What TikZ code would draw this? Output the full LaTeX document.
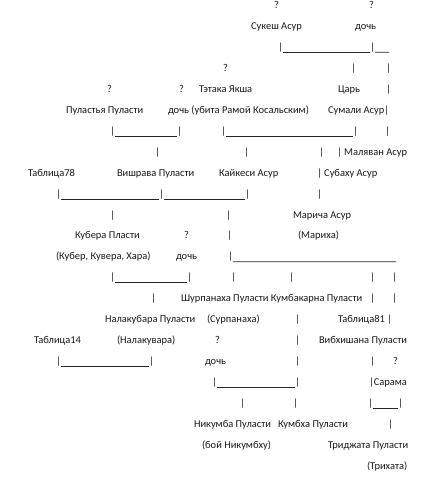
\documentclass[tikz,border=0pt]{standalone}
\usepackage{fontspec}
\setmainfont{Carlito}
\newcommand\rowb[1]{(8.5+20.95*(#1-1))}
\tikzset{
  t/.style={anchor=base west, inner sep=0pt, outer sep=0pt, font=\fontsize{10.5}{12}\selectfont, text=black!90},
  ul/.style={line width=0.7bp, black!85},
}
\begin{document}
\begin{tikzpicture}[x=1bp,y=-1bp]
\useasboundingbox[fill=white] (0,0) rectangle (435,486);
% row 1
\node[t] (q1a) at (274,{\rowb{1}}) {?};
\node[t] (q1b) at (369,{\rowb{1}}) {?};
% row 2
\node[t] (sukesh) at (251,{\rowb{2}}) {Сукеш Асур};
\node[t] (doch1) at (355,{\rowb{2}}) {дочь};
% row 3
\node[t] (b3a) at (278,{\rowb{3}}) {|};
\node[t] (b3b) at (370,{\rowb{3}}) {|};
\coordinate (e3) at (389,{\rowb{3}+1.8});
\draw[ul] ([yshift=-1.8bp]b3a.base east) -- ([yshift=-1.8bp]b3b.base west);
\draw[ul] ([yshift=-1.8bp]b3b.base east) -- (e3);
% row 4
\node[t] (q4) at (223,{\rowb{4}}) {?};
\node[t] (b4a) at (351,{\rowb{4}}) {|};
\node[t] (b4b) at (386,{\rowb{4}}) {|};
% row 5
\node[t] (q5a) at (107,{\rowb{5}}) {?};
\node[t] (q5b) at (179,{\rowb{5}}) {?};
\node[t] (tetaka) at (199,{\rowb{5}}) {Тэтака Якша};
\node[t] (tsar) at (338,{\rowb{5}}) {Царь};
\node[t] (b5) at (386,{\rowb{5}}) {|};
% row 6
\node[t] (pulastya) at (66,{\rowb{6}}) {Пуластья Пуласти};
\node[t] (doch2) at (168,{\rowb{6}}) {дочь (убита Рамой Косальским)};
\node[t] (sumali) at (328,{\rowb{6}}) {Сумали Асур|};
% row 7
\node[t] (b7a) at (110,{\rowb{7}}) {|};
\node[t] (b7b) at (177,{\rowb{7}}) {|};
\node[t] (b7c) at (221,{\rowb{7}}) {|};
\node[t] (b7d) at (353,{\rowb{7}}) {|};
\node[t] (b7e) at (385,{\rowb{7}}) {|};
\draw[ul] ([yshift=-1.8bp]b7a.base east) -- ([yshift=-1.8bp]b7b.base west);
\draw[ul] ([yshift=-1.8bp]b7c.base east) -- ([yshift=-1.8bp]b7d.base west);
% row 8
\node[t] (b8a) at (155,{\rowb{8}}) {|};
\node[t] (b8b) at (244,{\rowb{8}}) {|};
\node[t] (b8c) at (319,{\rowb{8}}) {|};
\node[t] (malyavan) at (337,{\rowb{8}}) {| Маляван Асур};
% row 9
\node[t] (tab78) at (28,{\rowb{9}}) {Таблица78};
\node[t] (vishrava) at (117,{\rowb{9}}) {Вишрава Пуласти};
\node[t] (kaikesi) at (219,{\rowb{9}}) {Кайкеси Асур};
\node[t] (subahu) at (317,{\rowb{9}}) {| Субаху Асур};
% row 10
\node[t] (b10a) at (56,{\rowb{10}}) {|};
\node[t] (b10b) at (159,{\rowb{10}}) {|};
\node[t] (b10c) at (245,{\rowb{10}}) {|};
\node[t] (b10d) at (317,{\rowb{10}}) {|};
\draw[ul] ([yshift=-1.8bp]b10a.base east) -- ([yshift=-1.8bp]b10b.base west);
\draw[ul] ([yshift=-1.8bp]b10b.base east) -- ([yshift=-1.8bp]b10c.base west);
% row 11
\node[t] (b11a) at (110,{\rowb{11}}) {|};
\node[t] (b11b) at (226,{\rowb{11}}) {|};
\node[t] (maricha) at (293,{\rowb{11}}) {Марича Асур};
% row 12
\node[t] (kubera) at (75,{\rowb{12}}) {Кубера Пласти};
\node[t] (q12) at (184,{\rowb{12}}) {?};
\node[t] (b12) at (227,{\rowb{12}}) {|};
\node[t] (marikha) at (298,{\rowb{12}}) {(Мариха)};
% row 13
\node[t] (kuber) at (56,{\rowb{13}}) {(Кубер, Кувера, Хара)};
\node[t] (doch3) at (176,{\rowb{13}}) {дочь};
\node[t] (b13) at (228,{\rowb{13}}) {|};
\coordinate (e13) at (396,{\rowb{13}+1.8});
\draw[ul] ([yshift=-1.8bp]b13.base east) -- (e13);
% row 14
\node[t] (b14a) at (110,{\rowb{14}}) {|};
\node[t] (b14b) at (187,{\rowb{14}}) {|};
\node[t] (b14c) at (231,{\rowb{14}}) {|};
\node[t] (b14d) at (289,{\rowb{14}}) {|};
\node[t] (b14e) at (370,{\rowb{14}}) {|};
\node[t] (b14f) at (392,{\rowb{14}}) {|};
\draw[ul] ([yshift=-1.8bp]b14a.base east) -- ([yshift=-1.8bp]b14b.base west);
% row 15
\node[t] (b15a) at (151,{\rowb{15}}) {|};
\node[t] (shurp) at (181,{\rowb{15}}) {Шурпанаха Пуласти Кумбакарна Пуласти};
\node[t] (b15b) at (370,{\rowb{15}}) {|};
\node[t] (b15c) at (392,{\rowb{15}}) {|};
% row 16
\node[t] (nalakubara) at (105,{\rowb{16}}) {Налакубара Пуласти};
\node[t] (surp) at (207,{\rowb{16}}) {(Сурпанаха)};
\node[t] (b16) at (295,{\rowb{16}}) {|};
\node[t] (tab81) at (338,{\rowb{16}}) {Таблица81 |};
% row 17
\node[t] (tab14) at (34,{\rowb{17}}) {Таблица14};
\node[t] (nalakuvara) at (117,{\rowb{17}}) {(Налакувара)};
\node[t] (q17) at (215,{\rowb{17}}) {?};
\node[t] (b17) at (295,{\rowb{17}}) {|};
\node[t] (vibh) at (319,{\rowb{17}}) {Вибхишана Пуласти};
% row 18
\node[t] (b18a) at (56,{\rowb{18}}) {|};
\node[t] (b18b) at (149,{\rowb{18}}) {|};
\draw[ul] ([yshift=-1.8bp]b18a.base east) -- ([yshift=-1.8bp]b18b.base west);
\node[t] (doch4) at (205,{\rowb{18}}) {дочь};
\node[t] (b18c) at (295,{\rowb{18}}) {|};
\node[t] (b18d) at (370,{\rowb{18}}) {|};
\node[t] (q18) at (393,{\rowb{18}}) {?};
% row 19
\node[t] (b19a) at (212,{\rowb{19}}) {|};
\node[t] (b19b) at (295,{\rowb{19}}) {|};
\draw[ul] ([yshift=-1.8bp]b19a.base east) -- ([yshift=-1.8bp]b19b.base west);
\node[t] (sarama) at (369,{\rowb{19}}) {|Сарама};
% row 20
\node[t] (b20a) at (240,{\rowb{20}}) {|};
\node[t] (b20b) at (293,{\rowb{20}}) {|};
\node[t] (b20c) at (368,{\rowb{20}}) {|};
\node[t] (b20d) at (398,{\rowb{20}}) {|};
\draw[ul] ([yshift=-1.8bp]b20c.base east) -- ([yshift=-1.8bp]b20d.base west);
% row 21
\node[t] (nikumba) at (194,{\rowb{21}}) {Никумба Пуласти};
\node[t] (kumbha) at (278,{\rowb{21}}) {Кумбха Пуласти};
\node[t] (b21) at (388,{\rowb{21}}) {|};
% row 22
\node[t] (boi) at (202,{\rowb{22}}) {(бой Никумбху)};
\node[t] (trijata) at (328,{\rowb{22}}) {Триджата Пуласти};
% row 23
\node[t] (trikhata) at (367,{\rowb{23}}) {(Трихата)};
\end{tikzpicture}
\end{document}
